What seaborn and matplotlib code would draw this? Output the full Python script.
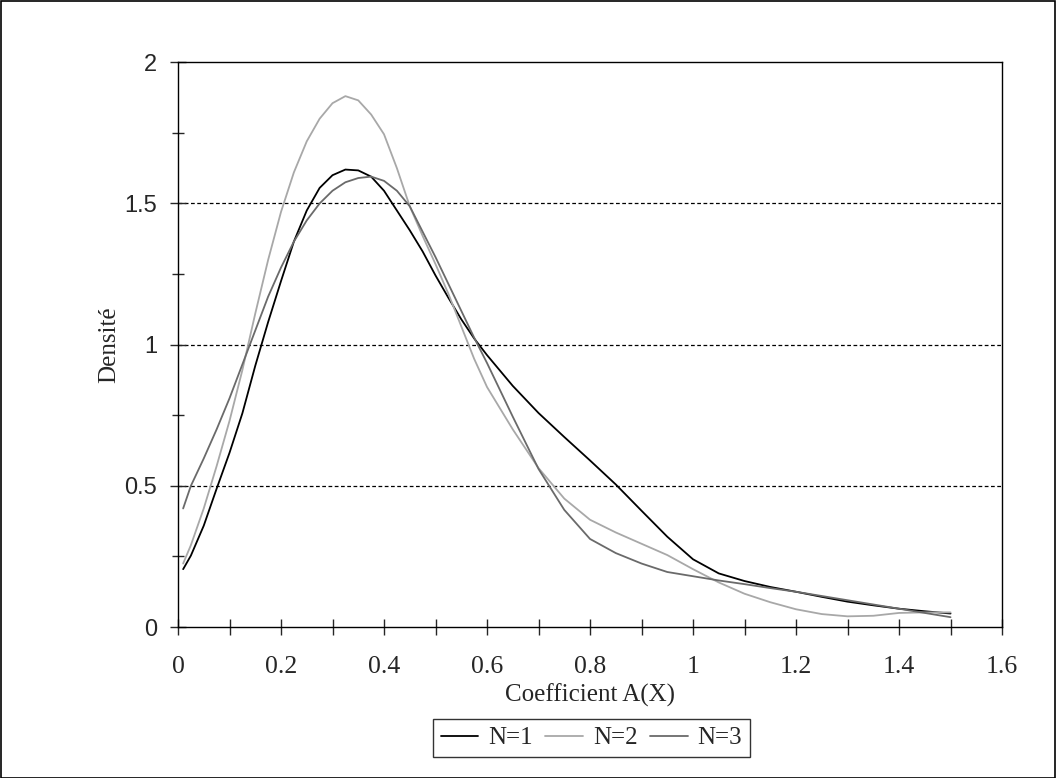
import numpy as np
import matplotlib
matplotlib.use("Agg")
import matplotlib.pyplot as plt
from matplotlib.ticker import MultipleLocator, FuncFormatter
from matplotlib.patches import Rectangle
import seaborn as sns
import pandas as pd

# Coefficient A(X) values where the curves were read
x_vals = [0.01, 0.025, 0.05, 0.075, 0.1, 0.125, 0.15, 0.175, 0.2, 0.225,
          0.25, 0.275, 0.3, 0.325, 0.35, 0.375, 0.4, 0.425, 0.45, 0.475,
          0.5, 0.525, 0.55, 0.575, 0.6, 0.65, 0.7, 0.75, 0.8, 0.85,
          0.9, 0.95, 1.0, 1.05, 1.1, 1.15, 1.2, 1.25, 1.3, 1.35,
          1.4, 1.45, 1.5]

# Densities for each N
dens_n1 = [0.205, 0.253, 0.359, 0.49, 0.617, 0.757, 0.925, 1.08, 1.225, 1.365,
           1.475, 1.555, 1.60, 1.62, 1.617, 1.595, 1.545, 1.475, 1.405, 1.33,
           1.245, 1.166, 1.09, 1.022, 0.963, 0.854, 0.758, 0.673, 0.59, 0.505,
           0.412, 0.32, 0.24, 0.19, 0.163, 0.142, 0.125, 0.107, 0.09, 0.077,
           0.065, 0.056, 0.048]
dens_n2 = [0.225, 0.29, 0.42, 0.57, 0.73, 0.91, 1.11, 1.30, 1.47, 1.61,
           1.72, 1.80, 1.855, 1.88, 1.865, 1.815, 1.745, 1.625, 1.49, 1.385,
           1.285, 1.18, 1.065, 0.95, 0.85, 0.70, 0.563, 0.455, 0.38, 0.335,
           0.295, 0.255, 0.205, 0.158, 0.118, 0.088, 0.063, 0.046, 0.038, 0.04,
           0.05, 0.052, 0.052]
dens_n3 = [0.42, 0.5, 0.597, 0.70, 0.81, 0.93, 1.05, 1.17, 1.273, 1.365,
           1.44, 1.50, 1.545, 1.575, 1.59, 1.595, 1.58, 1.545, 1.49, 1.40,
           1.31, 1.215, 1.12, 1.025, 0.935, 0.745, 0.56, 0.415, 0.312, 0.262,
           0.225, 0.195, 0.18, 0.165, 0.152, 0.138, 0.125, 0.11, 0.095, 0.08,
           0.065, 0.05, 0.035]

labels = ["N=1", "N=2", "N=3"]
colors = ["#000000", "#a8a8a8", "#6a6a6a"]

df = pd.DataFrame({
    "x": x_vals * 3,
    "y": dens_n1 + dens_n2 + dens_n3,
    "N": [labels[0]] * len(x_vals) + [labels[1]] * len(x_vals) + [labels[2]] * len(x_vals),
})

sns.set_style("ticks")
plt.rcParams["font.family"] = ["Liberation Serif", "DejaVu Serif"]

fig = plt.figure(figsize=(10.57, 7.78), dpi=100)
ax = fig.add_axes([0.1684, 0.194, 0.7796, 0.726])

sns.lineplot(data=df, x="x", y="y", hue="N", palette=colors, estimator=None,
             sort=False, linewidth=1.3, ax=ax, legend=False)

# dashed gridlines
for g in [0.5, 1.0, 1.5]:
    ax.axhline(g, color="black", linestyle=(0, (3, 2)), linewidth=0.9, zorder=0)

ax.set_xlim(0, 1.6)
ax.set_ylim(0, 2)
ax.xaxis.set_major_locator(MultipleLocator(0.2))
ax.xaxis.set_minor_locator(MultipleLocator(0.1))
ax.yaxis.set_major_locator(MultipleLocator(0.5))
ax.yaxis.set_minor_locator(MultipleLocator(0.25))
fmt = FuncFormatter(lambda v, p: "%g" % round(v, 2))
ax.xaxis.set_major_formatter(fmt)
ax.yaxis.set_major_formatter(fmt)

ax.tick_params(axis="x", which="both", direction="inout", length=12, width=1,
               labelsize=18.5, pad=15)
ax.tick_params(axis="y", which="major", direction="inout", length=12, width=1,
               labelsize=17, pad=9)
ax.tick_params(axis="y", which="minor", direction="inout", length=9, width=1)
for lab in ax.get_yticklabels():
    lab.set_family(["Liberation Sans", "DejaVu Sans"])

for s in ax.spines.values():
    s.set_linewidth(1.0)
    s.set_color("black")

ax.set_xlabel("Coefficient A(X)", fontsize=18, labelpad=4)
ax.set_ylabel("Densité", fontsize=18, labelpad=3)

handles = [plt.Line2D([], [], color=c, linewidth=1.3) for c in colors]
leg = fig.legend(handles, labels, loc="center", bbox_to_anchor=(0.5596, 0.0514),
                 ncol=3, fontsize=18, frameon=True, fancybox=False,
                 edgecolor="black", handlelength=1.5, handletextpad=0.4,
                 columnspacing=0.5, borderpad=0.3, borderaxespad=0)
leg.get_frame().set_linewidth(1.0)

# outer border
fig.patches.append(Rectangle((0.0005, 0.0005), 0.998, 0.998, transform=fig.transFigure,
                             fill=False, edgecolor="black", linewidth=1.2))

fig.savefig("out.png", dpi=100)
